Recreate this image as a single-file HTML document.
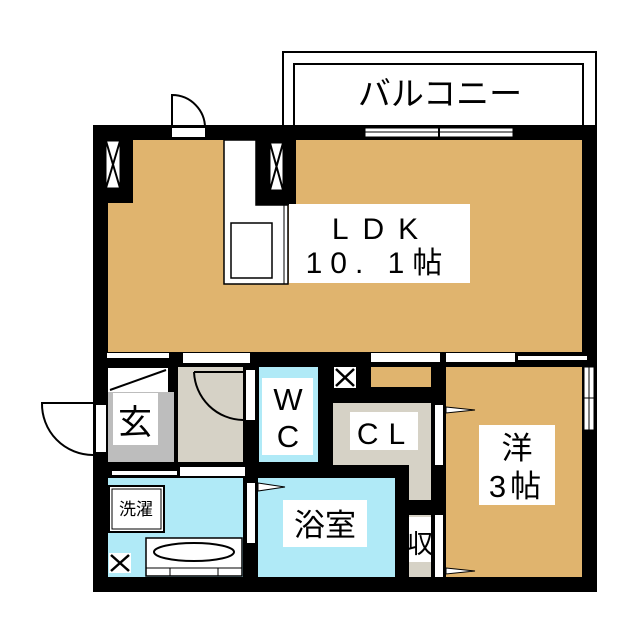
<!DOCTYPE html>
<html><head><meta charset="utf-8"><style>body{margin:0;background:#fff}svg{display:block}text{font-family:"Liberation Sans","Noto Sans CJK JP",sans-serif;fill:#000}</style></head><body>
<svg width="640" height="640" viewBox="0 0 640 640" xmlns="http://www.w3.org/2000/svg">
<rect x="283" y="52" width="313" height="80" fill="#fff" stroke="#000" stroke-width="2"/>
<rect x="294" y="64" width="289" height="70" fill="#fff" stroke="#000" stroke-width="2"/>
<text x="440" y="105" font-size="33" text-anchor="middle">バルコニー</text>
<path d="M172 129 V95 A33 33 0 0 1 205 129" fill="#fff" stroke="#000" stroke-width="2"/>
<rect x="93" y="125" width="504" height="467" fill="#000"/>
<rect x="108" y="140" width="474" height="212" fill="#E0B46E"/>
<rect x="93" y="125" width="40" height="78" fill="#000"/>
<rect x="256" y="140" width="40" height="65" fill="#000"/>
<rect x="172" y="128" width="33" height="9" fill="#fff"/>
<g fill="#fff" stroke="#000" stroke-width="1"><rect x="106" y="141" width="14" height="47"/><rect x="270" y="143" width="13" height="47"/></g>
<path d="M106 141 L120 188 M120 141 L106 188 M270 143 L283 190 M283 143 L270 190" stroke="#000" stroke-width="2"/>
<path d="M224 140 H256 V205 H288 V284 H224 Z" fill="#fff" stroke="#000" stroke-width="1.5"/>
<rect x="231" y="223" width="41" height="55" fill="none" stroke="#000" stroke-width="1.5"/>
<line x1="284" y1="205" x2="284" y2="284" stroke="#000" stroke-width="1"/>
<rect x="289" y="204" width="181" height="79" fill="#fff"/>
<text x="382" y="239" font-size="30" text-anchor="middle" letter-spacing="14">LDK</text>
<text x="378" y="273" font-size="30" text-anchor="middle" letter-spacing="8">10. 1帖</text>
<rect x="365" y="128" width="148" height="9" fill="#fff" stroke="#000" stroke-width="1"/>
<line x1="365" y1="132" x2="513" y2="132" stroke="#000"/><line x1="439" y1="125" x2="439" y2="140" stroke="#000" stroke-width="2"/>
<rect x="108" y="368" width="60" height="24" fill="#fff"/>
<line x1="110" y1="390" x2="166" y2="370" stroke="#000" stroke-width="2"/>
<rect x="108" y="392" width="66" height="70" fill="#BDBDBD"/>
<rect x="113" y="393" width="45" height="52" fill="#fff"/>
<text x="135" y="434" font-size="34" text-anchor="middle">玄</text>
<rect x="107" y="353" width="62" height="5" fill="#fff"/>
<rect x="178" y="367" width="65" height="95" fill="#D6D2C6"/>
<path d="M194 372 A50 50 0 0 0 243 420" fill="none" stroke="#000" stroke-width="2"/>
<line x1="194" y1="372" x2="243" y2="372" stroke="#000" stroke-width="2"/>
<rect x="183" y="353" width="67" height="10" fill="#fff"/>
<rect x="246" y="370" width="9" height="50" fill="#fff"/>
<rect x="259" y="367" width="59" height="95" fill="#B0EAF7"/>
<rect x="262" y="378" width="51" height="77" fill="#fff"/>
<text x="288" y="410" font-size="31" text-anchor="middle">W</text>
<text x="288" y="447" font-size="31" text-anchor="middle">C</text>
<rect x="334" y="367" width="22" height="21" fill="#fff"/><path d="M336 369 L354 386 M354 369 L336 386" stroke="#000" stroke-width="2.5"/>
<rect x="371" y="367" width="60" height="20" fill="#E0B46E"/>
<rect x="371" y="353" width="69" height="9" fill="#fff"/><rect x="446" y="353" width="69" height="9" fill="#fff"/><rect x="518" y="356" width="69" height="4" fill="#fff"/>
<path d="M333 403 H431 V500 H409 V465 H333 Z" fill="#D6D2C6"/>
<rect x="350" y="412" width="68" height="38" fill="#fff"/>
<text x="386" y="444" font-size="30" text-anchor="middle" letter-spacing="10">CL</text>
<rect x="409" y="515" width="22" height="62" fill="#D6D2C6"/>
<rect x="409" y="517" width="22" height="45" fill="#fff"/>
<text x="420" y="553" font-size="26" text-anchor="middle">収</text>
<rect x="446" y="367" width="136" height="210" fill="#E0B46E"/>
<rect x="479" y="425" width="76" height="80" fill="#fff"/>
<text x="517" y="459" font-size="31" text-anchor="middle">洋</text>
<text x="517" y="497" font-size="31" text-anchor="middle" letter-spacing="4">3帖</text>
<rect x="435" y="405" width="8" height="60" fill="#fff"/><rect x="435" y="515" width="8" height="62" fill="#fff"/>
<path d="M446 407 L475 410 L446 413 Z M446 568 L475 571 L446 574 Z" fill="#fff" stroke="#000" stroke-width="1"/>
<rect x="584" y="367" width="10" height="63" fill="#fff" stroke="#000" stroke-width="1"/><line x1="589" y1="367" x2="589" y2="430" stroke="#000"/><line x1="582" y1="398" x2="597" y2="398" stroke="#000"/>
<rect x="108" y="478" width="135" height="99" fill="#B0EAF7"/>
<rect x="112" y="471" width="65" height="4" fill="#fff"/><rect x="180" y="467" width="65" height="9" fill="#fff"/>
<rect x="109" y="486" width="55" height="46" fill="#fff" stroke="#000" stroke-width="2"/><rect x="112" y="489" width="49" height="40" fill="#fff" stroke="#000" stroke-width="1"/>
<text x="136" y="515" font-size="17" text-anchor="middle">洗濯</text>
<rect x="146" y="538" width="96" height="38" fill="#fff" stroke="#000" stroke-width="1.5"/>
<ellipse cx="194" cy="552" rx="40" ry="9" fill="#fff" stroke="#000" stroke-width="2"/>
<path d="M146 568 H242 M170 568 V576 M218 568 V576" stroke="#000"/>
<rect x="109" y="553" width="22" height="20" fill="#fff"/><path d="M111 555 L129 571 M129 555 L111 571" stroke="#000" stroke-width="2.5"/>
<rect x="258" y="478" width="137" height="99" fill="#B0EAF7"/>
<rect x="283" y="500" width="84" height="47" fill="#fff"/>
<text x="325" y="536" font-size="31" text-anchor="middle">浴室</text>
<rect x="247" y="483" width="8" height="60" fill="#fff"/>
<path d="M258 483 L285 487 L258 491 Z" fill="#fff" stroke="#000" stroke-width="1"/>
<path d="M93 403 H42 A51 51 0 0 0 93 455" fill="#fff" stroke="#000" stroke-width="2"/>
<rect x="96" y="405" width="10" height="47" fill="#fff"/>
</svg>
</body></html>
